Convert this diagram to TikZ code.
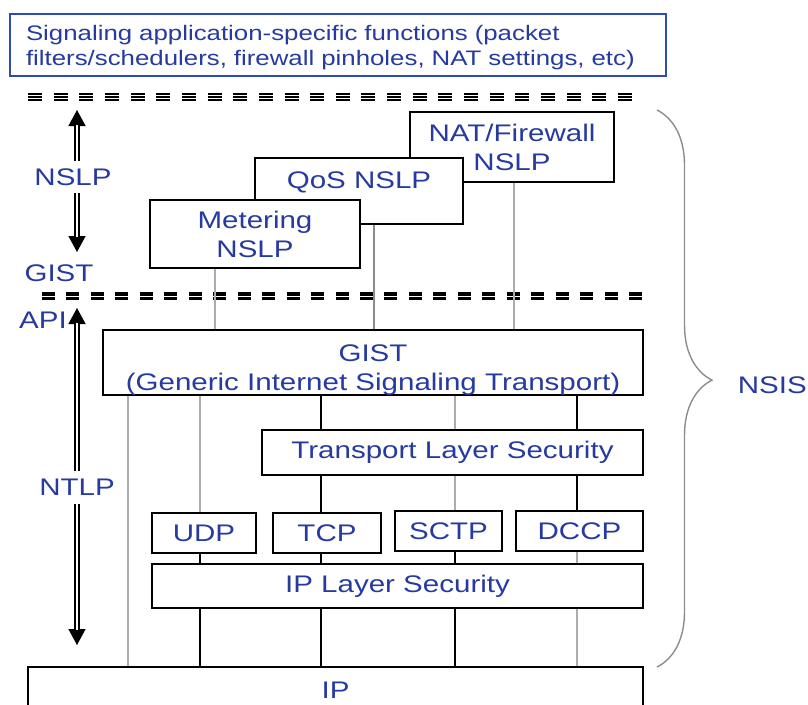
\documentclass[tikz,border=0pt]{standalone}
\usepackage{fontspec}
\setmainfont{Liberation Sans}[FakeStretch=1.23]
\usetikzlibrary{arrows.meta,decorations.pathreplacing}
\definecolor{txtblue}{RGB}{38,58,160}
\definecolor{boxblue}{RGB}{45,75,180}
\definecolor{lgray}{RGB}{172,172,172}
\definecolor{bgray}{RGB}{140,140,140}
\begin{document}
\begin{tikzpicture}[x=1pt,y=-1pt,
  every node/.style={text=txtblue, font=\fontsize{24}{29}\selectfont},
  layer/.style={draw=black, line width=1.3pt, fill=white, align=center, inner sep=0pt},
  glink/.style={draw=lgray, line width=1.8pt},
  blink/.style={draw=black, line width=1.3pt},
  tipline/.style={draw=black, line width=1.5pt, -{Triangle[width=17pt,length=16pt]}},
  dblshaft/.style={draw=black, double=white, double distance=2.8pt, line width=1.5pt, shorten >=15pt},
  lbl/.style={inner sep=0pt},
  dashA/.style={draw=black, line width=1.8pt, dash pattern=on 14pt off 11.65pt},
  dashB/.style={draw=black, line width=3.5pt, dash pattern=on 13pt off 11.46pt},
  bracestyle/.style={draw=bgray, line width=1.4pt, decorate, decoration={brace, amplitude=55pt, aspect=0.485}}
]
\useasboundingbox (0,0) rectangle (808,704);
\clip (0,0) rectangle (808,704);

% top box
\node[layer, draw=boxblue, minimum width=656pt, minimum height=62pt, text width=624pt, align=left,
      font=\fontsize{21}{25}\selectfont] (apps) at (338,45)
  {\rule{0pt}{21pt}Signaling application-specific functions (packet\\filters/schedulers, firewall pinholes, NAT settings, etc)};

% dashed separators
\foreach \dy in {-3.3,0,3.3} \draw[dashA] (28,{97+\dy}) -- (632,{97+\dy});
\foreach \dy in {-2.25,2.25} \draw[dashB] (42,{296+\dy}) -- (642,{296+\dy});

% NSLP boxes
\node[layer, minimum width=204pt, minimum height=70pt] (nat) at (512,147) {NAT/Firewall\\NSLP};
\node[layer, minimum width=208pt, minimum height=66pt, text height=17pt, text depth=22pt] (qos) at (359,191) {QoS NSLP};
\node[layer, minimum width=210pt, minimum height=68pt] (met) at (255,234) {Metering\\NSLP};

% NTLP boxes
\node[layer, minimum width=540pt, minimum height=65pt] (gist) at (373,362.5) {\rule{0pt}{31pt}GIST\\(Generic Internet Signaling Transport)};
\node[layer, minimum width=381pt, minimum height=45pt] (tls) at (452.5,452.5) {Transport Layer Security};
\node[layer, minimum width=104pt, minimum height=40pt] (udp) at (204,533) {UDP};
\node[layer, minimum width=108pt, minimum height=40pt] (tcp) at (327,533) {TCP};
\node[layer, minimum width=107pt, minimum height=40pt] (sctp) at (448.5,531) {SCTP};
\node[layer, minimum width=127pt, minimum height=40pt] (dccp) at (579.5,531) {DCCP};
\node[layer, minimum width=491pt, minimum height=44pt] (ipsec) at (397.5,586) {IP Layer Security};
\node[layer, minimum width=615pt, minimum height=46pt] (ip) at (335.5,690) {IP};

% columns
\coordinate (m1) at (215,0);
\coordinate (q1) at (374,0);
\coordinate (n1) at (514,0);
\coordinate (c0) at (128,0);
\coordinate (c1) at (200,0);
\coordinate (c2) at (321,0);
\coordinate (c3) at (455,0);
\coordinate (c4) at (577,0);

\draw[glink] (m1 |- met.south) -- (m1 |- gist.north);
\draw[glink, draw=bgray] (q1 |- qos.south) -- (q1 |- gist.north);
\draw[glink] (n1 |- nat.south) -- (n1 |- gist.north);
\draw[glink] (c0 |- gist.south) -- (c0 |- ip.north);
\draw[glink] (c1 |- gist.south) -- (c1 |- udp.north);
\draw[blink] (c2 |- gist.south) -- (c2 |- tls.north);
\draw[glink] (c3 |- gist.south) -- (c3 |- tls.north);
\draw[blink] (c4 |- gist.south) -- (c4 |- tls.north);
\draw[blink] (c2 |- tls.south) -- (c2 |- tcp.north);
\draw[glink] (c3 |- tls.south) -- (c3 |- sctp.north);
\draw[blink] (c4 |- tls.south) -- (c4 |- dccp.north);
\draw[blink] (c1 |- udp.south) -- (c1 |- ipsec.north);
\draw[blink] (c2 |- tcp.south) -- (c2 |- ipsec.north);
\draw[blink] (c3 |- sctp.south) -- (c3 |- ipsec.north);
\draw[glink] (c4 |- dccp.south) -- (c4 |- ipsec.north);
\draw[blink] (c1 |- ipsec.south) -- (c1 |- ip.north);
\draw[blink] (c2 |- ipsec.south) -- (c2 |- ip.north);
\draw[blink] (c3 |- ipsec.south) -- (c3 |- ip.north);
\draw[glink] (c4 |- ipsec.south) -- (c4 |- ip.north);

% side labels and arrows
\node[lbl] (nslp) at (73,177) {NSLP};
\node[lbl] (gistlbl) at (59,273) {GIST};
\node[lbl, anchor=west] (api) at (19,320) {API};
\node[lbl] (ntlp) at (77,487) {NTLP};
\coordinate (nslpup) at (77,110);
\coordinate (nslpdn) at (77,252);
\coordinate (ntlpup) at (77,308);
\coordinate (ntlpdn) at (77,645);
\draw[tipline, shorten <=7pt] (nslpup |- nslp.north) -- (nslpup);
\draw[dblshaft, shorten <=7pt] (nslpup |- nslp.north) -- (nslpup);
\draw[tipline, shorten <=7pt] (nslpdn |- nslp.south) -- (nslpdn);
\draw[dblshaft, shorten <=7pt] (nslpdn |- nslp.south) -- (nslpdn);
\draw[tipline, shorten <=8pt] (ntlpup |- ntlp.north) -- (ntlpup);
\draw[dblshaft, shorten <=8pt] (ntlpup |- ntlp.north) -- (ntlpup);
\draw[tipline, shorten <=9pt] (ntlpdn |- ntlp.south) -- (ntlpdn);
\draw[dblshaft, shorten <=9pt] (ntlpdn |- ntlp.south) -- (ntlpdn);

% brace and NSIS
\coordinate (brtop) at (657,110);
\coordinate (brbot) at (657,667);
\draw[bracestyle] (brtop) -- (brbot);
\node[lbl, anchor=east] (nsis) at (807,385) {NSIS};
\end{tikzpicture}
\end{document}
